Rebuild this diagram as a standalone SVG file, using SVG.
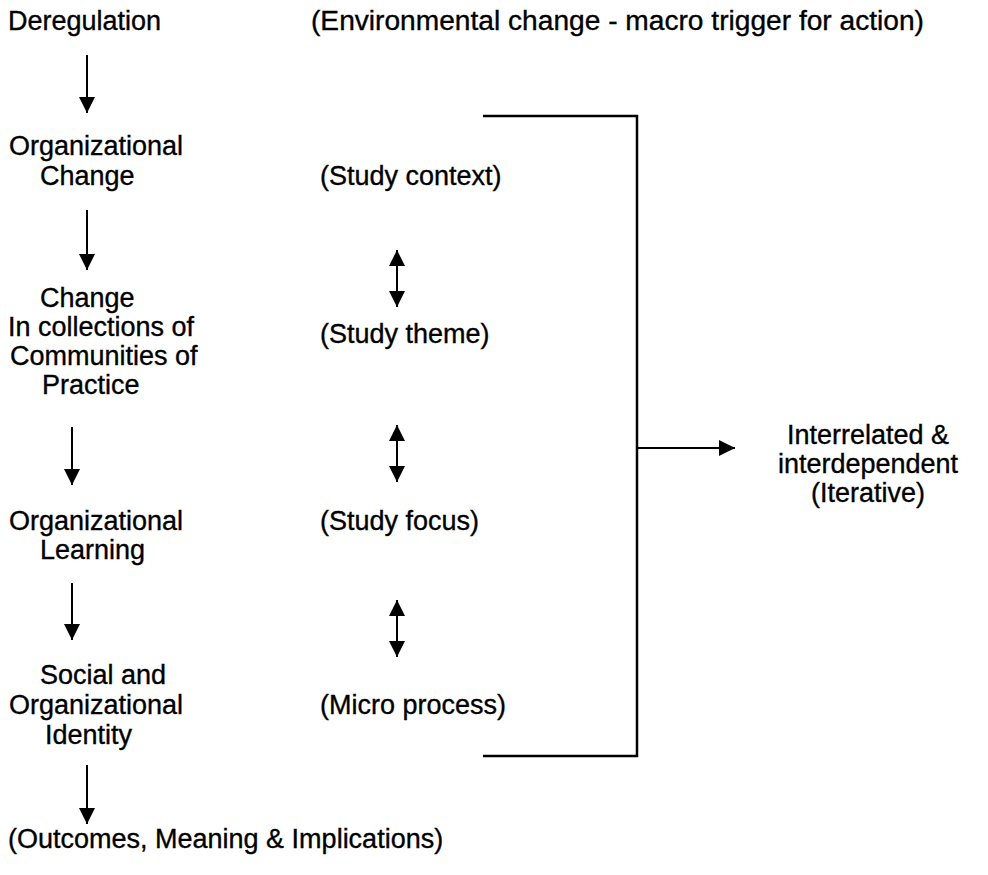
<svg xmlns="http://www.w3.org/2000/svg" width="988" height="875" viewBox="0 0 988 875">
  <style>
    text { font-family: "Liberation Sans", Arial, sans-serif; font-size: 27px; fill: #000; stroke: #000; stroke-width: 0.35; }
    .mid { text-anchor: middle; }
    .ln { stroke: #000; stroke-width: 2; fill: none; }
    .bk { stroke: #000; stroke-width: 2.5; fill: none; }
  </style>
  <defs>
    <marker id="head" viewBox="0 0 16 16" refX="16" refY="8" markerWidth="16" markerHeight="16" markerUnits="userSpaceOnUse" orient="auto-start-reverse">
      <path d="M0,0 L16,8 L0,16 Z" fill="#000"/>
    </marker>
  </defs>

  <rect width="988" height="875" fill="#fff"/>

  <!-- left column: chain of stages -->
  <g id="deregulation"><text x="8" y="30">Deregulation</text></g>
  <g id="org-change">
    <text x="9" y="155">Organizational</text>
    <text x="40" y="185">Change</text>
  </g>
  <g id="cop-change">
    <text x="40" y="307">Change</text>
    <text x="8" y="336">In collections of</text>
    <text x="10" y="365">Communities of</text>
    <text x="42" y="394">Practice</text>
  </g>
  <g id="org-learning">
    <text x="9" y="530">Organizational</text>
    <text x="40" y="559">Learning</text>
  </g>
  <g id="identity">
    <text x="40" y="684">Social and</text>
    <text x="9" y="714">Organizational</text>
    <text x="45" y="744">Identity</text>
  </g>
  <g id="outcomes"><text x="8" y="848">(Outcomes, Meaning &amp; Implications)</text></g>

  <!-- middle column: study levels -->
  <g id="env-change"><text x="311" y="30" textLength="613" lengthAdjust="spacingAndGlyphs">(Environmental change - macro trigger for action)</text></g>
  <g id="study-context"><text x="320" y="185">(Study context)</text></g>
  <g id="study-theme"><text x="320" y="343">(Study theme)</text></g>
  <g id="study-focus"><text x="320" y="530">(Study focus)</text></g>
  <g id="micro-process"><text x="320" y="714">(Micro process)</text></g>

  <!-- right: outcome of the bracket -->
  <g id="interrelated">
    <text class="mid" x="868" y="444">Interrelated &amp;</text>
    <text class="mid" x="868" y="473">interdependent</text>
    <text class="mid" x="868" y="502">(Iterative)</text>
  </g>

  <g id="connectors">
    <!-- downward arrows between stages -->
    <line class="ln" x1="87" y1="55" x2="87" y2="113" marker-end="url(#head)"/>
    <line class="ln" x1="87" y1="210" x2="87" y2="270" marker-end="url(#head)"/>
    <line class="ln" x1="72" y1="427" x2="72" y2="485" marker-end="url(#head)"/>
    <line class="ln" x1="72" y1="583" x2="72" y2="640" marker-end="url(#head)"/>
    <line class="ln" x1="87" y1="765" x2="87" y2="824" marker-end="url(#head)"/>

    <!-- two-way arrows between study levels -->
    <line class="ln" x1="397" y1="250" x2="397" y2="307" marker-start="url(#head)" marker-end="url(#head)"/>
    <line class="ln" x1="397" y1="425" x2="397" y2="482" marker-start="url(#head)" marker-end="url(#head)"/>
    <line class="ln" x1="397" y1="600" x2="397" y2="657" marker-start="url(#head)" marker-end="url(#head)"/>

    <!-- bracket and its arrow -->
    <polyline class="bk" points="483,116 637,116 637,756 483,756"/>
    <line class="ln" x1="637" y1="448" x2="735" y2="448" marker-end="url(#head)"/>
  </g>
</svg>
